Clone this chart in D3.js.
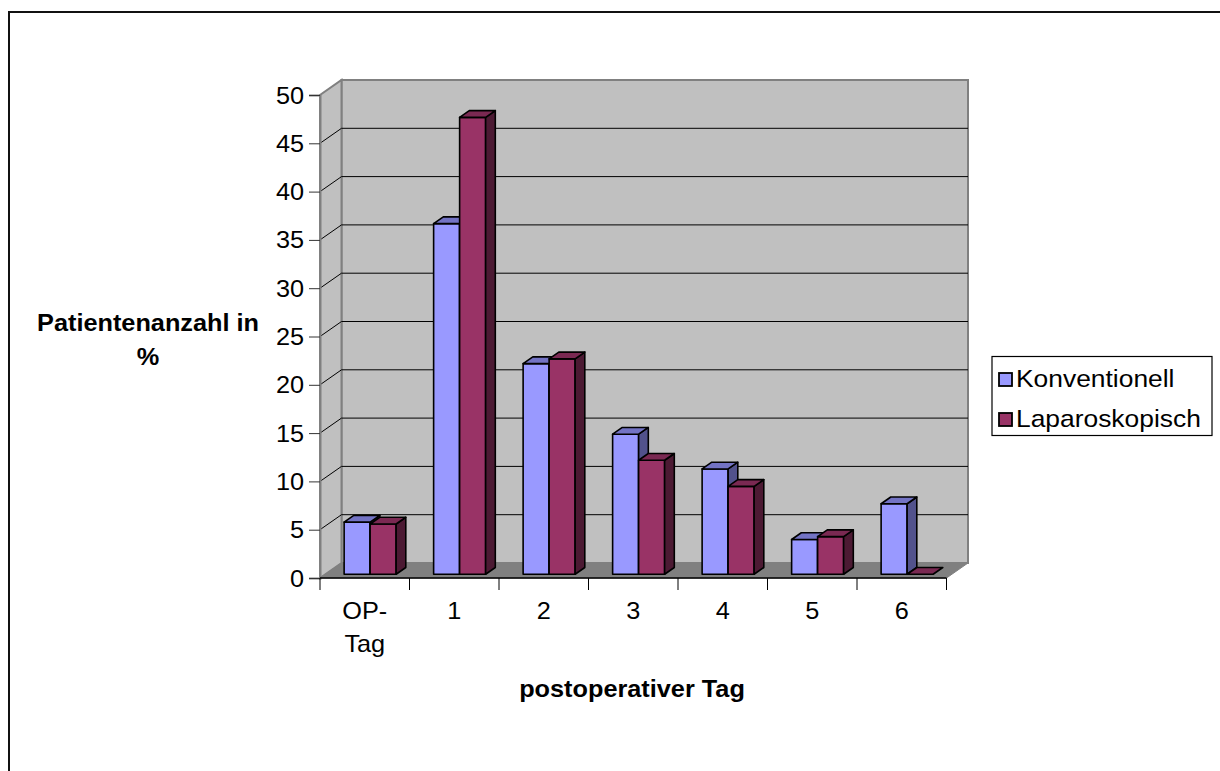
<!DOCTYPE html>
<html>
<head>
<meta charset="utf-8">
<script src="https://cdn.jsdelivr.net/npm/d3@7"></script>
<style>
  html, body { margin: 0; padding: 0; background: #fff; }
  svg { display: block; font-family: "Liberation Sans", Arial, sans-serif; }
</style>
</head>
<body>
<svg id="chart" width="1220" height="771"></svg>
<script>
// Postoperative day distribution, percent of patients per group
const categories = ["OP-Tag", "1", "2", "3", "4", "5", "6"];
const seriesNames = ["Konventionell", "Laparoskopisch"];
const konventionell = [5.4, 36.3, 21.8, 14.5, 10.9, 3.6, 7.3];
const laparoskopisch = [5.2, 47.3, 22.3, 11.8, 9.1, 3.9, 0];
const yTicks = [0, 5, 10, 15, 20, 25, 30, 35, 40, 45, 50];

const colors = {
  Konventionell: { front: "#9999ff", side: "#52528c", top: "#7373c4" },
  Laparoskopisch: { front: "#993366", side: "#4c1a33", top: "#7a2952" }
};

const svg = d3.select("#chart");

// outer frame of the chart area
svg.append("rect")
  .attr("x", 9).attr("y", 12).attr("width", 1400).attr("height", 1000)
  .attr("fill", "none").attr("stroke", "#111").attr("stroke-width", 2);

// scales (front plane of the plot box)
const left = 320, right = 946.5;
const y = d3.scaleLinear().domain([0, 50]).range([578, 95]);
const x0 = d3.scaleBand().domain(categories).range([left, right]).padding(0);
const groupInset = 18.75;
const x1 = d3.scaleBand().domain(seriesNames).range([groupInset, x0.bandwidth() - groupInset]).padding(0);

// oblique depth offset for the full plot depth
const DX = 21.5, DY = -15;
const P = (x, v, z) => [x + DX * z, y(v) + DY * z];
const poly = pts => "M" + pts.map(p => p.join(",")).join("L") + "Z";

const fontFamily = '"Liberation Sans", Arial, sans-serif';
const fontSize = 23;
function label(g, x, yy, str, opts = {}) {
  return g.append("text")
    .attr("transform", `translate(${x},${yy}) scale(1.1,1)`)
    .attr("text-anchor", opts.anchor || "middle")
    .attr("font-family", fontFamily)
    .attr("font-size", opts.size || fontSize)
    .attr("font-weight", opts.bold ? "bold" : "normal")
    .attr("fill", "#000")
    .text(str);
}

// walls and floor
const walls = svg.append("g");
const vMax = 50;
walls.append("path") // back wall
  .attr("d", poly([P(left, 0, 1), P(right, 0, 1), P(right, vMax, 1), P(left, vMax, 1)]))
  .attr("fill", "#c0c0c0").attr("stroke", "#808080").attr("stroke-width", 2);
walls.append("path") // side wall
  .attr("d", poly([P(left, 0, 0), P(left, 0, 1), P(left, vMax, 1), P(left, vMax, 0)]))
  .attr("fill", "#c0c0c0").attr("stroke", "#808080").attr("stroke-width", 2);
walls.append("path") // floor
  .attr("d", poly([P(left, 0, 0), P(right, 0, 0), P(right, 0, 1), P(left, 0, 1)]))
  .attr("fill", "#808080").attr("stroke", "#808080").attr("stroke-width", 1);

// gridlines on back and side walls
const grid = svg.append("g").attr("stroke", "#000").attr("stroke-width", 1).attr("fill", "none");
yTicks.filter(t => t > 0 && t < 50).forEach(t => {
  grid.append("path").attr("d", poly([P(left, t, 0), P(left, t, 1), P(right, t, 1)]).replace("Z", ""));
});

// value axis
const yAxis = svg.append("g")
  .attr("transform", `translate(${left},0)`)
  .call(d3.axisLeft(y).tickValues(yTicks).tickSize(11).tickPadding(5).tickFormat(d3.format("d")))
  .attr("font-family", fontFamily).attr("font-size", fontSize);
yAxis.select(".domain").attr("stroke", "#808080").attr("stroke-width", 2);
yAxis.selectAll(".tick line").attr("stroke", "#333").attr("stroke-width", 1);
yAxis.selectAll(".tick text")
  .attr("x", null).attr("dy", null)
  .attr("transform", "translate(-16,8) scale(1.1,1)")
  .attr("font-size", fontSize).attr("font-family", fontFamily).attr("fill", "#000");

// category axis: ticks at category boundaries, labels centred
const xAxis = svg.append("g");
xAxis.append("line")
  .attr("x1", left).attr("x2", right).attr("y1", y(0)).attr("y2", y(0))
  .attr("stroke", "#000").attr("stroke-width", 1.5);
const bounds = categories.map(c => x0(c)).concat([x0.range()[1]]);
xAxis.selectAll(".xt").data(bounds).join("line")
  .attr("x1", d => d).attr("x2", d => d)
  .attr("y1", y(0)).attr("y2", y(0) + 12)
  .attr("stroke", "#000").attr("stroke-width", 1);
categories.forEach(c => {
  const cx = x0(c) + x0.bandwidth() / 2;
  if (c === "OP-Tag") {
    label(xAxis, cx, 619, "OP-");
    label(xAxis, cx, 652, "Tag");
  } else {
    label(xAxis, cx, 619, c);
  }
});

// bars
const z0 = 0.25, z1 = 0.7;
const bars = svg.append("g").attr("stroke", "#000").attr("stroke-width", 1.6).attr("stroke-linejoin", "round");
categories.forEach((c, i) => {
  [["Konventionell", konventionell[i]], ["Laparoskopisch", laparoskopisch[i]]].forEach(([s, v]) => {
    const xl = x0(c) + x1(s), xr = xl + x1.bandwidth();
    const col = colors[s];
    if (v > 0) {
      bars.append("path").attr("fill", col.front)
        .attr("d", poly([P(xl, 0, z0), P(xr, 0, z0), P(xr, v, z0), P(xl, v, z0)]));
      bars.append("path").attr("fill", col.side)
        .attr("d", poly([P(xr, 0, z0), P(xr, 0, z1), P(xr, v, z1), P(xr, v, z0)]));
    }
    bars.append("path").attr("fill", col.top)
      .attr("d", poly([P(xl, v, z0), P(xr, v, z0), P(xr, v, z1), P(xl, v, z1)]));
  });
});

// axis titles
label(svg, 148, 331, "Patientenanzahl in", { bold: true });
label(svg, 148, 365, "%", { bold: true });
label(svg, 632, 697, "postoperativer Tag", { bold: true });

// legend
const legend = svg.append("g");
legend.append("rect")
  .attr("x", 992).attr("y", 356.5).attr("width", 220).attr("height", 79)
  .attr("fill", "#fff").attr("stroke", "#000").attr("stroke-width", 1.2);
seriesNames.forEach((s, i) => {
  const ly = 373 + i * 40;
  legend.append("rect")
    .attr("x", 999).attr("y", ly).attr("width", 13).attr("height", 13)
    .attr("fill", colors[s].front).attr("stroke", "#000").attr("stroke-width", 1.8);
  label(legend, 1016, ly + 13.5, s, { anchor: "start", size: 24 });
});
</script>
</body>
</html>
